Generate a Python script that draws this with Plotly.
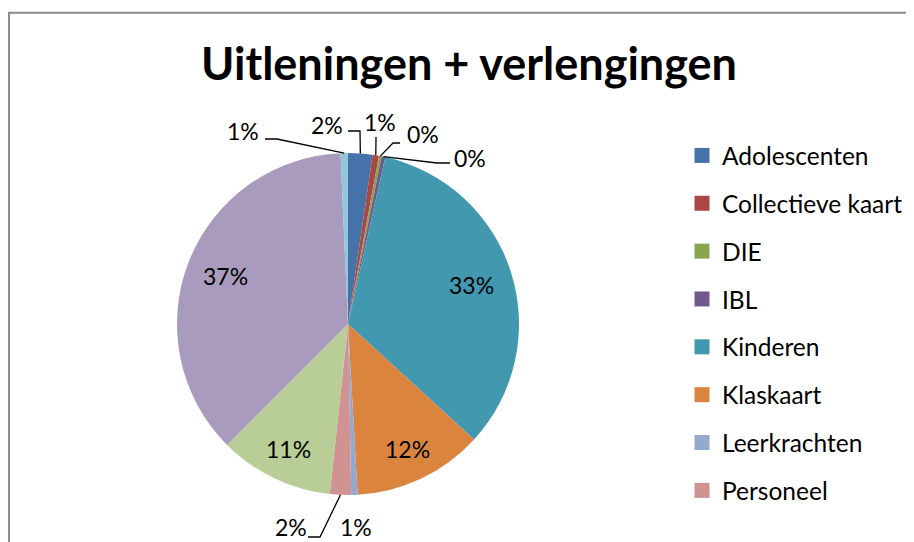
import math
import plotly.graph_objects as go

# ---- data ----
labels = ["Adolescenten", "Collectieve kaart", "DIE", "IBL", "Kinderen", "Klaskaart",
          "Leerkrachten", "Personeel", "Studenten", "Volwassenen", "Vrijwilligers"]
values = [2.3, 0.6, 0.25, 0.35, 33.3, 12.3, 0.6, 2.0, 10.8, 36.8, 0.7]
colors = ["#4572A8", "#AA4643", "#89A54E", "#71588F", "#4198AF", "#DB843D",
          "#93A9CF", "#D19392", "#B9CD96", "#A99BBD", "#92C6D8"]
legend_count = 8  # entries visible in the (cropped) legend
title_text = "Uitleningen + verlengingen"

# ---- layout constants (screen pixels; page body adds an 8px offset) ----
W, H = 914, 542
OFF = 8
CX, CY, R = 348, 324, 171
FONT = "Lato"
FS = 23

def to_paper(px, py):
    return (px - OFF) / W, 1 - (py - OFF) / H

total = sum(values)
mids = []
acc = 0.0
for v in values:
    mids.append(2 * math.pi * (acc + v / 2) / total)
    acc += v

def pt(i, f):
    th = mids[i]
    return CX + f * R * math.sin(th), CY - f * R * math.cos(th)

def pct(i):
    return f"{round(100 * values[i] / total):.0f}%"

x0, y1 = to_paper(CX - R, CY - R)
x1, y0 = to_paper(CX + R, CY + R)

fig = go.Figure()
fig.add_trace(go.Pie(
    labels=labels, values=values, sort=False, direction="clockwise", rotation=0,
    marker=dict(colors=colors, line=dict(width=0)),
    textinfo="none", hoverinfo="label+percent", showlegend=False,
    domain=dict(x=[x0, x1], y=[y0, y1]),
))

# legend entries via dummy traces
for i in range(legend_count):
    fig.add_trace(go.Scatter(
        x=[None], y=[None], mode="markers", name=labels[i],
        marker=dict(symbol="square", size=15, color=colors[i]),
        legendgroup=f"g{i}", showlegend=True, hoverinfo="skip",
    ))

annotations = []
shapes = []

def label(px, py, text):
    x, y = to_paper(px, py)
    annotations.append(dict(x=x, y=y, xref="paper", yref="paper", text=text,
                            xanchor="center", yanchor="middle", showarrow=False,
                            font=dict(family=FONT, size=FS, color="black")))

# inside labels: index -> radius fraction
inside = {4: 0.76, 5: 0.81, 8: 0.81, 9: 0.77}
for i, f in inside.items():
    label(*pt(i, f), pct(i))

# outside labels: index -> (label centre, leader start, optional elbow) in screen px
outside = {
    10: ((243, 131), (265, 139), (277, 139)),
    0: ((327, 125), (348, 131), (360, 131)),
    1: ((380, 122), (376, 137), None),
    2: ((423, 134), (400, 143), (393, 143)),
    3: ((470, 158), (450, 163), (437, 163)),
    7: ((291, 527), (308, 537), (320, 537)),
}
for i, (lc, start, elbow) in outside.items():
    label(*lc, pct(i))
    ex, ey = pt(i, 1.0)
    pts = [start] + ([elbow] if elbow else []) + [(ex, ey)]
    path = ""
    for k, (px, py) in enumerate(pts):
        x, y = to_paper(px, py)
        path += ("M" if k == 0 else " L") + f"{x:.5f},{y:.5f}"
    shapes.append(dict(type="path", xref="paper", yref="paper", path=path,
                       line=dict(color="black", width=1.3)))
# label without leader line
label(356, 527, pct(6))

tx, ty = to_paper(469, 64)
lgx, lgy = to_paper(682, 133)
fx0, fy1 = to_paper(OFF + 1, 12.7)
shapes.append(dict(type="rect", xref="paper", yref="paper",
                   x0=fx0, x1=1.05, y0=-0.05, y1=fy1,
                   line=dict(color="#8C8C8C", width=2), fillcolor="rgba(0,0,0,0)", layer="below"))

fig.update_layout(
    width=W, height=H,
    margin=dict(l=0, r=0, t=0, b=0),
    paper_bgcolor="white", plot_bgcolor="white",
    title=dict(text=f"<b>{title_text}</b>", x=tx, xanchor="center",
               y=ty, yanchor="middle", yref="container",
               font=dict(family=FONT, size=45, color="black")),
    xaxis=dict(visible=False), yaxis=dict(visible=False),
    legend=dict(x=lgx, y=lgy, xanchor="left", yanchor="top",
                font=dict(family=FONT, size=24.5, color="black"),
                tracegroupgap=13, itemclick=False, bgcolor="rgba(0,0,0,0)"),
    annotations=annotations,
    shapes=shapes,
)

fig.write_html("out.html")
